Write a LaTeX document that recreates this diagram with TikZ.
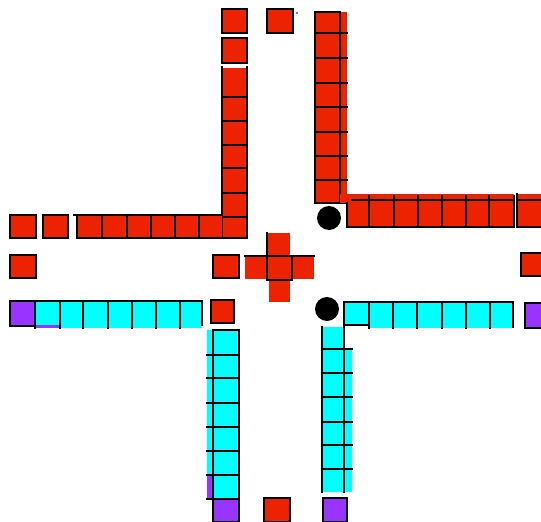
\documentclass[tikz,border=0pt]{standalone}
\definecolor{cred}{RGB}{236,34,0}
\definecolor{ccyan}{RGB}{0,255,255}
\definecolor{cpurp}{RGB}{153,51,255}
\tikzset{
 edge/.style={draw=black,line width=2.4pt,line cap=rect},
 rsq/.style={fill=cred,draw=black,line width=2.4pt},
 psq/.style={fill=cpurp,draw=black,line width=2.4pt},
}
\begin{document}
\begin{tikzpicture}[x=1pt,y=-1pt]
\useasboundingbox (0,0) rectangle (541,522);
\fill[white] (0,0) rectangle (541,522);

% ---- top isolated red squares
\path[rsq] (222,9) rectangle (247,33);
\path[rsq] (222,38) rectangle (247,63);
\path[rsq] (267,9) rectangle (293,33);
\fill (297,13) circle (0.8);

% ---- left red vertical column
\fill[cred] (222,68) rectangle (247,238);
\draw[edge] (222,67) -- (222,238);
\draw[edge] (247,67) -- (247,238);
\foreach \y in {97,121,145,168,193,217} \draw[edge] (222,\y) -- (247,\y);

% ---- left red row
\path[rsq] (10,215) rectangle (36,238);
\path[rsq] (43,215) rectangle (68,238);
\fill[cred] (77,215) rectangle (222,238);
\draw[edge] (74,215) -- (222,215);
\draw[edge] (77,215) -- (77,238) -- (247,238);
\foreach \x in {102,127,151,175,199} \draw[edge] (\x,215) -- (\x,238);

% ---- second row red squares
\path[rsq] (10,255) rectangle (36,278);
\path[rsq] (213,255) rectangle (239,278);
\path[rsq] (521,253) rectangle (545,276);

% ---- cross
\fill[cred] (267,233) rectangle (290,256);
\fill[cred] (245,256) rectangle (314,279);
\fill[cred] (269,280) rectangle (290,302);
\draw[edge] (245,256) -- (314,256);
\draw[edge] (267,233) -- (267,280);
\draw[edge] (292,256) -- (292,280);
\draw[edge] (267,280) -- (292,280);

% ---- right red column
\fill[cred] (315,12) rectangle (347,203);
\draw[edge] (340,12) -- (315,12) -- (315,203) -- (345,203);
\draw[edge] (340,12) -- (340,203);
\foreach \y in {33,58,83,107,132,156,180} \draw[edge] (315,\y) -- (347,\y);

% ---- right red row
\fill[cred] (340,194) rectangle (347,203);
\fill[cred] (347,194) rectangle (514,227);
\draw[edge] (352,200) -- (514,200);
\draw[edge] (347,203) -- (347,227) -- (514,227);
\foreach \x in {369,394,418,442,466,489,514} \draw[edge] (\x,196) -- (\x,227);
\fill[cred] (517,194) rectangle (545,227);
\draw[edge] (517,194) -- (517,227) -- (545,227);
\draw[edge] (517,200) -- (545,200);

% ---- black dots
\fill (329,218) circle (12);
\fill (327,309) circle (12);

% ---- left cyan row
\fill[cpurp] (35,325) rectangle (60,328);
\fill[ccyan] (60,325) rectangle (202,328);
\fill[cpurp] (10,301) rectangle (35,325);
\fill[ccyan] (35,301) rectangle (202,325);
\draw[edge] (10,301) -- (202,301) -- (202,325);
\draw[edge] (10,301) -- (10,326) -- (35,326);
\foreach \x in {35,60,83,108,132,156,180} \draw[edge] (\x,301) -- (\x,328);

\path[rsq] (211,300) rectangle (234,323);

% ---- left cyan column
\fill[ccyan] (207,330) rectangle (213,475);
\fill[cpurp] (207,475) rectangle (213,499);
\fill[ccyan] (213,330) rectangle (239,499);
\draw[edge] (213,499) -- (213,330) -- (239,330) -- (239,499);
\foreach \y in {355,378,403,427,451,475} \draw[edge] (207,\y) -- (239,\y);
\draw[edge] (207,499) -- (213,499);
\path[psq] (213,499) rectangle (239,522);

% ---- right cyan row
\fill[ccyan] (344,302) rectangle (513,325);
\fill[ccyan] (369,325) rectangle (513,328);
\draw[edge] (344,302) -- (513,302) -- (513,327);
\draw[edge] (344,325) -- (369,325);
\foreach \x in {369,393,417,442,466,490} \draw[edge] (\x,302) -- (\x,328);
\path[psq] (525,303) rectangle (545,328);

% ---- right cyan column
\fill[ccyan] (322,327) rectangle (344,492);
\fill[ccyan] (344,348) rectangle (352,492);
\draw[edge] (322,327) -- (322,492);
\draw[edge] (344,302) -- (344,492);
\foreach \y in {349,373,397,422,445,469} \draw[edge] (322,\y) -- (352,\y);
\path[psq] (323,498) rectangle (347,522);
\path[rsq] (264,498) rectangle (290,522);
\end{tikzpicture}
\end{document}
